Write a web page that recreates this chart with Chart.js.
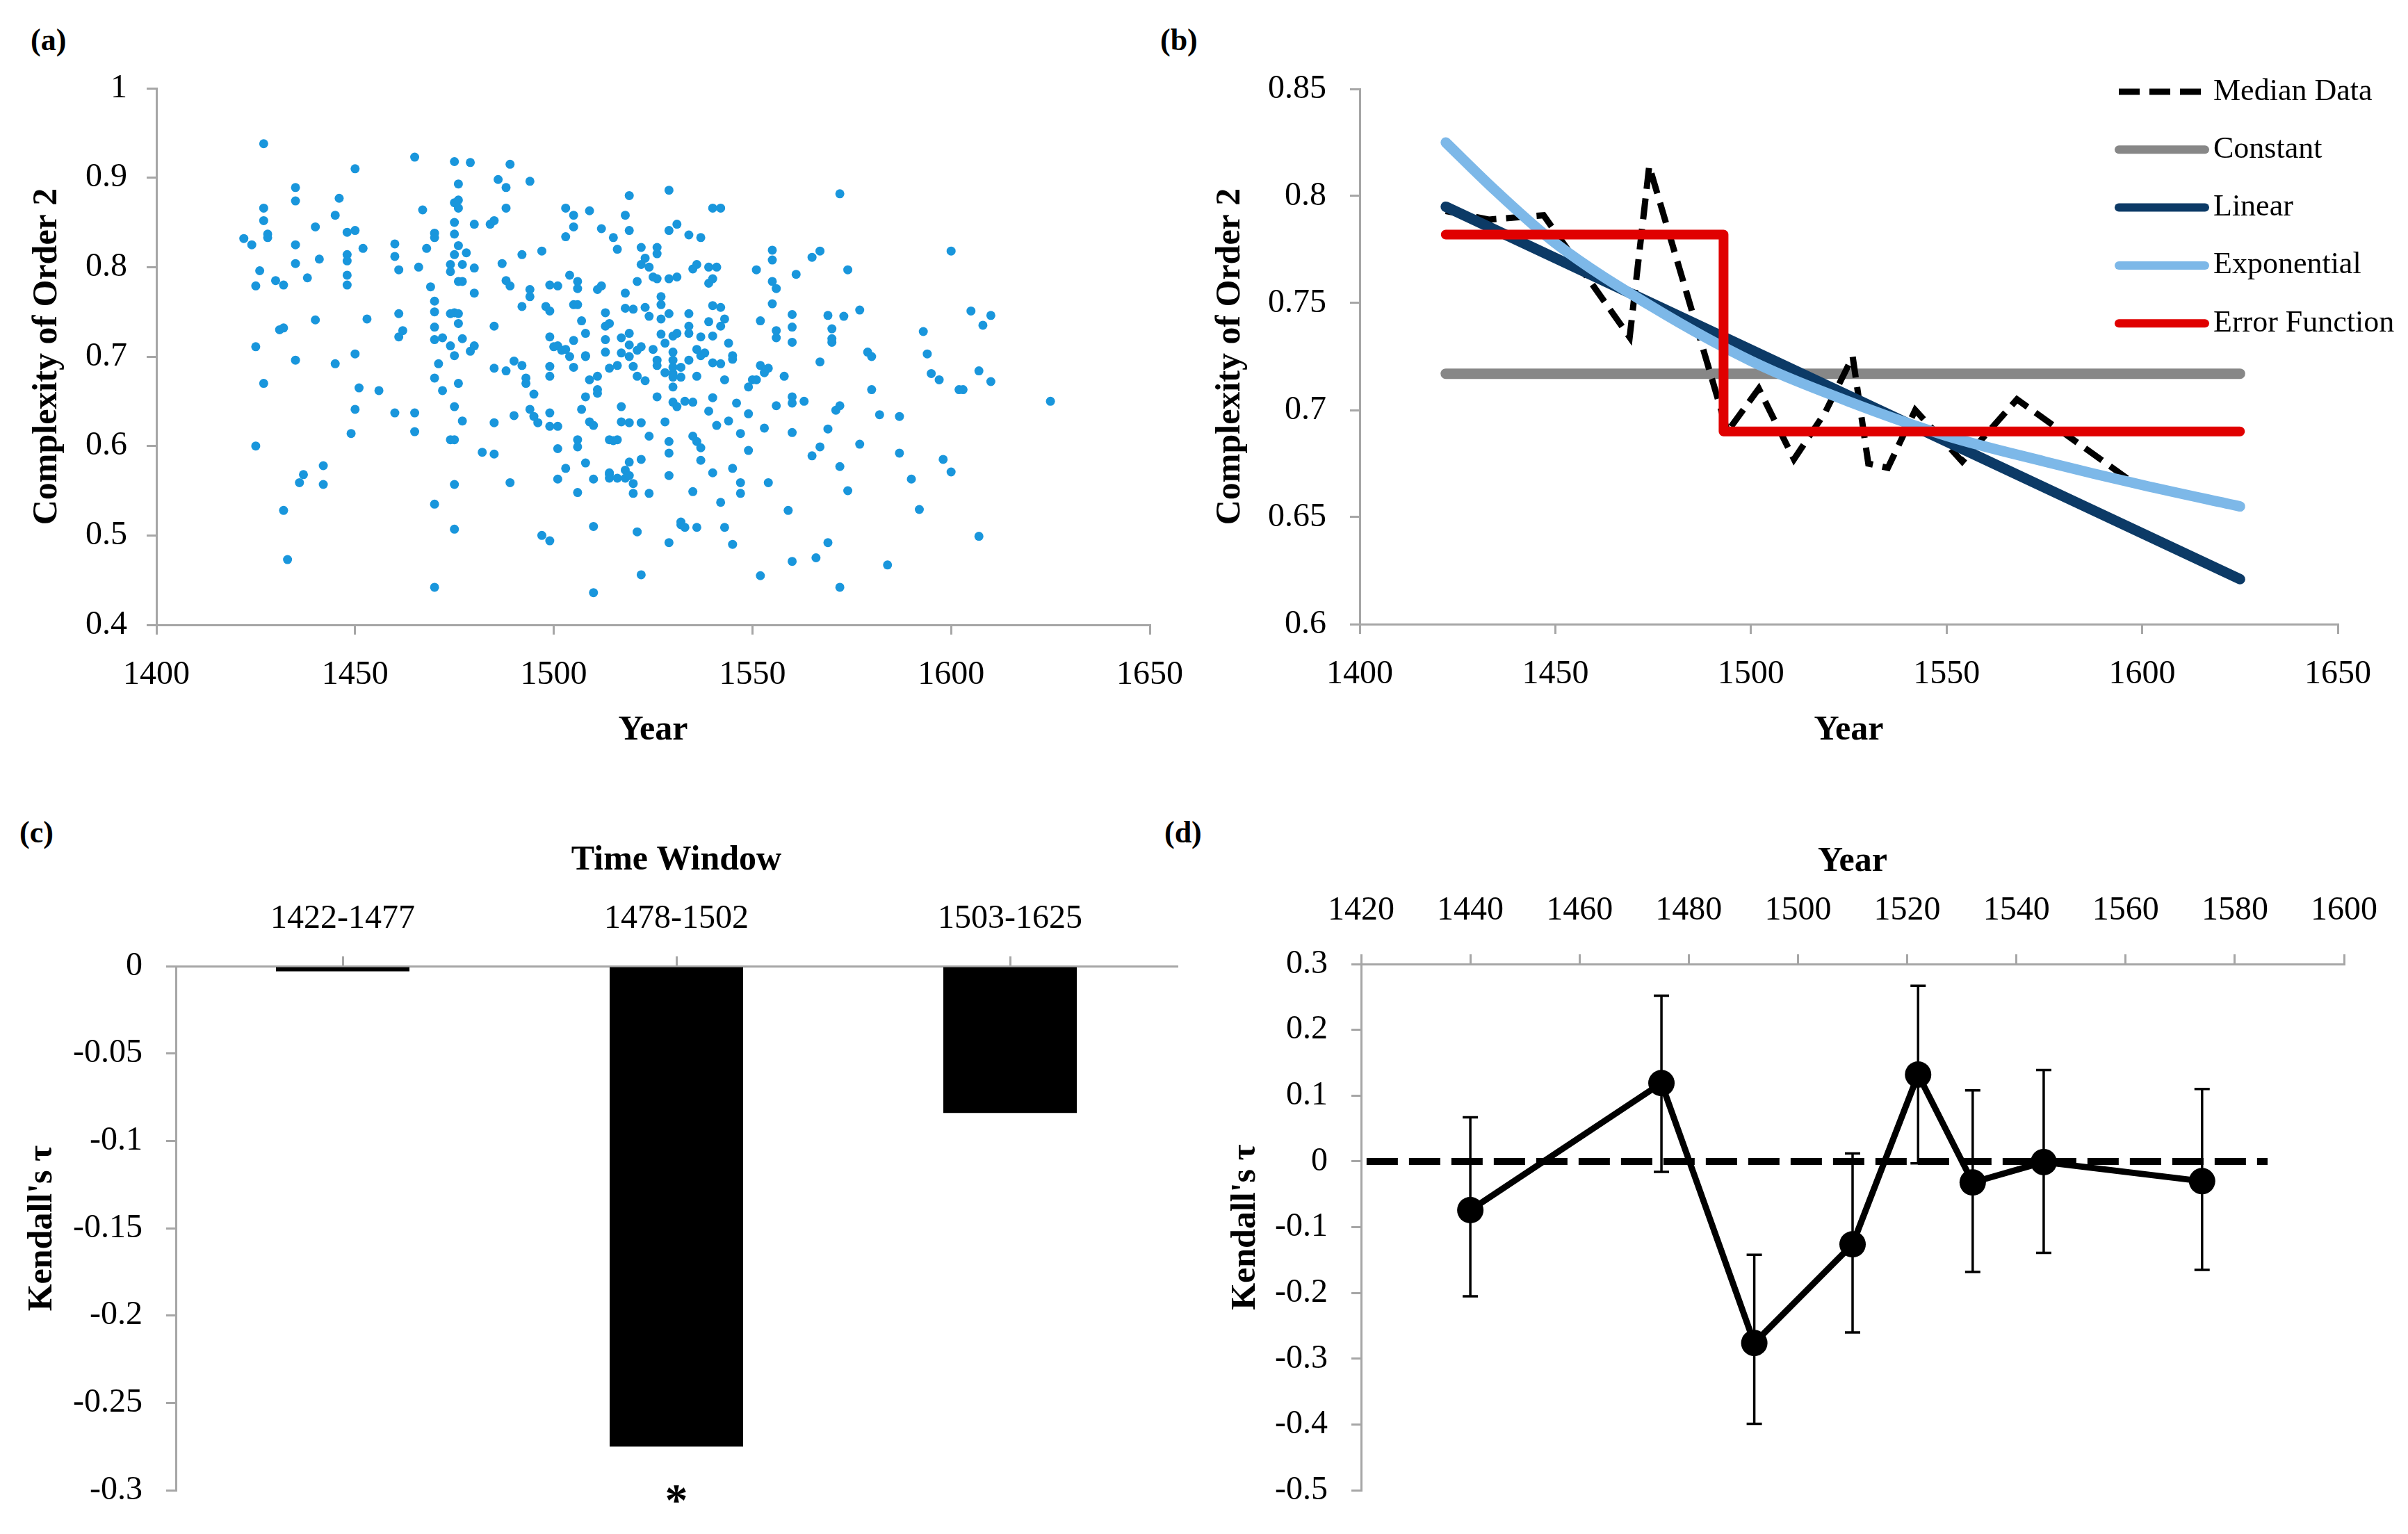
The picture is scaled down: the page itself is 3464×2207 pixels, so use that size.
<!DOCTYPE html>
<html>
<head>
<meta charset="utf-8">
<script src="https://cdn.jsdelivr.net/npm/chart.js@4.4.1/dist/chart.umd.min.js"></script>
<style>
  html, body { margin: 0; padding: 0; background: #fff; }
  body { width: 3464px; height: 2207px; position: relative; overflow: hidden; font-family: 'Liberation Serif', serif; }
  canvas { position: absolute; }
  .tag { position: absolute; font-weight: bold; font-size: 44px; line-height: 1; color: #000; }
</style>
</head>
<body>
<div class="tag" style="left:44px;top:36px">(a)</div>
<div class="tag" style="left:1669px;top:36px">(b)</div>
<div class="tag" style="left:28px;top:1176px">(c)</div>
<div class="tag" style="left:1675px;top:1176px">(d)</div>

<canvas id="chartA" width="1732" height="1110" style="left:0px;top:0px"></canvas>
<canvas id="chartB" width="1732" height="1110" style="left:1732px;top:0px"></canvas>
<canvas id="chartC" width="1732" height="1097" style="left:0px;top:1110px"></canvas>
<canvas id="chartD" width="1732" height="1097" style="left:1732px;top:1110px"></canvas>

<script>
// ---- (a) every piece: year and complexity of order 2
const yearsA = [
  1422,1424,1426,1425,1425,1427,1425,1427,1427,1427, 1428,1428,1430,1432,1431,1432,1432,1433,1435,1435,
  1435,1435,1435,1436,1437,1438,1440,1440,1441,1442, 1442,1445,1445,1446,1448,1448,1448,1448,1448,1450,
  1450,1449,1450,1450,1451,1452,1453,1456,1460,1460, 1461,1461,1461,1462,1460,1465,1466,1465,1465,1467,
  1468,1469,1470,1470,1470,1470,1470,1470,1470,1471, 1472,1472,1470,1470,1474,1474,1474,1474,1474,1475,
  1475,1475,1476,1476,1475,1475,1476,1475,1476,1477, 1475,1476,1476,1475,1475,1476,1475,1475,1476,1477,
  1477,1477,1478,1479,1480,1480,1480,1480,1479,1482, 1485,1485,1485,1485,1484,1485,1486,1487,1488,1488,
  1488,1488,1489,1489,1490,1489,1490,1492,1492,1492, 1493,1493,1494,1494,1494,1494,1495,1495,1496,1497,
  1497,1498,1499,1499,1499,1499,1499,1499,1499,1499, 1500,1501,1501,1501,1501,1501,1502,1503,1503,1503,
  1503,1504,1504,1505,1505,1505,1505,1506,1506,1505, 1506,1506,1506,1506,1507,1508,1507,1508,1508,1508,
  1508,1509,1509,1509,1510,1510,1510,1510,1511,1511, 1511,1511,1512,1512,1513,1513,1513,1513,1514,1514,
  1514,1514,1514,1514,1515,1515,1516,1516,1516,1516, 1517,1517,1517,1517,1518,1518,1518,1518,1518,1519,
  1519,1519,1519,1519,1519,1519,1520,1519,1520,1520, 1520,1521,1521,1521,1521,1522,1522,1522,1522,1522,
  1522,1523,1523,1523,1524,1524,1524,1524,1525,1525, 1526,1526,1526,1526,1526,1526,1527,1527,1527,1527,
  1528,1528,1528,1529,1529,1529,1529,1529,1529,1529, 1529,1530,1530,1530,1530,1530,1530,1530,1530,1531,
  1531,1531,1531,1532,1532,1532,1532,1533,1533,1534, 1534,1534,1534,1534,1535,1535,1535,1535,1536,1536,
  1536,1536,1536,1537,1537,1537,1537,1537,1538,1539, 1539,1539,1539,1540,1540,1540,1540,1540,1540,1540,
  1541,1541,1542,1542,1542,1542,1542,1543,1543,1543, 1544,1544,1545,1545,1545,1545,1546,1547,1547,1547,
  1549,1549,1549,1550,1551,1551,1552,1552,1552,1553, 1553,1554,1554,1555,1555,1555,1555,1556,1556,1556,
  1556,1558,1559,1560,1560,1560,1560,1560,1560,1560, 1561,1563,1565,1565,1566,1567,1567,1567,1569,1569,
  1570,1570,1570,1569,1571,1572,1572,1572,1573,1572, 1574,1574,1577,1577,1579,1580,1580,1582,1584,1587,
  1587,1590,1592,1593,1594,1595,1597,1598,1600,1600, 1602,1603,1605,1607,1607,1608,1610,1610,1625
];
const complexityA = [
  .832,.825,.796,.779,.711,.670,.600,.938,.866,.852, .837,.833,.785,.780,.730,.732,.528,.473,.889,.874,
  .825,.804,.696,.559,.568,.788,.845,.741,.809,.578, .557,.692,.858,.877,.814,.807,.791,.780,.839,.841,
  .910,.614,.641,.703,.665,.821,.742,.662,.826,.812, .797,.748,.722,.729,.637,.923,.800,.637,.616,.864,
  .821,.778,.838,.833,.762,.750,.733,.719,.676,.692, .662,.721,.535,.442,.803,.795,.748,.712,.607,.607,
  .918,.872,.875,.866,.850,.837,.824,.814,.784,.784, .749,.748,.737,.701,.644,.670,.557,.507,.893,.803,
  .720,.628,.816,.706,.712,.799,.771,.848,.917,.593, .591,.626,.687,.734,.848,.852,.898,.804,.889,.866,
  .684,.785,.779,.915,.634,.559,.695,.690,.814,.756, .676,.670,.775,.767,.896,.641,.633,.658,.626,.818,
  .500,.756,.751,.780,.722,.689,.678,.637,.622,.494, .711,.779,.712,.622,.597,.563,.707,.866,.834,.575,
  .708,.791,.700,.718,.688,.858,.845,.784,.776,.758, .758,.607,.548,.599,.641,.726,.740,.700,.701,.655,
  .581,.863,.674,.627,.623,.563,.436,.510,.678,.663, .659,.775,.843,.779,.734,.705,.749,.719,.607,.568,
  .687,.737,.570,.564,.606,.833,.820,.690,.607,.564, .721,.704,.644,.627,.858,.771,.564,.754,.573,.880,
  .726,.713,.582,.567,.841,.700,.689,.626,.547,.558, .753,.707,.784,.678,.504,.456,.711,.585,.822,.803,
  .626,.810,.673,.755,.745,.611,.547,.800,.789,.708, .696,.655,.815,.822,.690,.787,.742,.767,.725,.758,
  .715,.682,.627,.567,.787,.841,.886,.492,.605,.592, .748,.723,.705,.681,.677,.666,.649,.696,.688,.789,
  .726,.644,.848,.512,.515,.688,.677,.509,.650,.748, .734,.726,.696,.836,.798,.549,.611,.649,.803,.678,
  .509,.708,.605,.701,.722,.833,.584,.598,.704,.782, .800,.639,.739,.757,.570,.866,.723,.693,.654,.787,
  .623,.800,.866,.537,.692,.755,.734,.742,.674,.509, .715,.628,.701,.575,.490,.697,.648,.547,.559,.614,
  .666,.595,.636,.674,.797,.674,.690,.740,.455,.620, .682,.559,.687,.819,.808,.784,.759,.721,.645,.776,
  .729,.678,.528,.655,.648,.747,.733,.716,.615,.471, .792,.650,.589,.811,.475,.818,.694,.599,.746,.619,
  .731,.716,.720,.492,.640,.882,.577,.645,.745,.442, .550,.797,.752,.602,.705,.700,.663,.635,.467,.592,
  .633,.563,.529,.728,.703,.681,.674,.585,.818,.571, .663,.663,.751,.499,.684,.735,.672,.746,.650
];

// ---- (b) median data and fitted models
const medianYears  = [1422, 1433, 1447, 1469, 1474, 1494, 1502, 1511, 1519, 1526, 1530, 1535, 1542, 1554, 1568, 1597];
const medianValues = [0.793, 0.789, 0.791, 0.734, 0.814, 0.690, 0.710, 0.677, 0.699, 0.725, 0.675, 0.673, 0.700, 0.676, 0.705, 0.667];
const constYears = [1422, 1625];
const constValues = [0.717, 0.717];
const linearYears = [1422, 1625];
const linearValues = [0.795, 0.621];
const expYears  = [1422, 1435, 1450, 1475, 1500, 1525, 1550, 1575, 1600, 1625];
const expValues = [0.825, 0.802, 0.778, 0.748, 0.723, 0.704, 0.688, 0.676, 0.665, 0.655];
const erfYears  = [1422, 1493, 1493, 1625];
const erfValues = [0.782, 0.782, 0.690, 0.690];
const modelNames = ['Median Data', 'Constant', 'Linear', 'Exponential', 'Error Function'];

// ---- (c) Kendall's tau per time window
const windowLabels = ['1422-1477', '1478-1502', '1503-1625'];
const tauWindow = [-0.003, -0.275, -0.084];
const sigMarks = ['', '*', ''];

// ---- (d) Kendall's tau over years, with error bars
const yearsD = [1440, 1475, 1492, 1510, 1522, 1532, 1545, 1574];
const tauD   = [-0.074, 0.119, -0.276, -0.126, 0.132, -0.032, -0.001, -0.030];
const tauHiD = [0.067, 0.252, -0.142, 0.012, 0.267, 0.108, 0.139, 0.110];
const tauLoD = [-0.205, -0.016, -0.399, -0.260, -0.003, -0.168, -0.139, -0.165];
const zeroLineYears = [1421, 1586];
const zeroLineValues = [0, 0];

// ---- shared look
const SERIF = "'Liberation Serif', serif";
const AXIS_GRAY = '#a6a6a6';
const TICK_FONT = { family: SERIF, size: 48 };
const TITLE_FONT = { family: SERIF, size: 50, weight: 'bold' };

Chart.defaults.font.family = SERIF;
Chart.defaults.color = '#000';
Chart.defaults.animation = false;

function fmt(v) { return String(+v.toFixed(2)); }
function pts(xs, ys) { return xs.map((x, i) => ({ x: x, y: ys[i] })); }

function axis(extra) {
  return Object.assign({
    grid: { display: true, drawOnChartArea: false, tickLength: 14, color: AXIS_GRAY, lineWidth: 3 },
    border: { display: true, color: AXIS_GRAY, width: 3 }
  }, extra);
}

const baseOpts = {
  responsive: false,
  devicePixelRatio: 1,
  plugins: { legend: { display: false }, tooltip: { enabled: false } }
};

// (a) scatter
new Chart(document.getElementById('chartA'), {
  type: 'scatter',
  data: {
    datasets: [{
      data: pts(yearsA, complexityA),
      pointRadius: 6.5,
      pointBackgroundColor: '#1996dc',
      pointBorderWidth: 0
    }]
  },
  options: Object.assign({}, baseOpts, {
    layout: { padding: { left: 0, top: 127, right: 74, bottom: 0 } },
    scales: {
      x: axis({
        type: 'linear', min: 1400, max: 1650,
        ticks: { stepSize: 50, font: TICK_FONT, padding: 30, callback: v => String(v) },
        title: { display: true, text: 'Year', font: TITLE_FONT, padding: { top: 0, bottom: 29 } },
        afterFit: s => { s.height = 211; }
      }),
      y: axis({
        min: 0.4, max: 1,
        ticks: { stepSize: 0.1, font: TICK_FONT, padding: 28, callback: fmt },
        title: { display: true, text: 'Complexity of Order 2', font: TITLE_FONT, padding: { top: 38, bottom: 0 } },
        afterFit: s => { s.width = 225; }
      })
    }
  })
});

// (b) legend drawn at the upper right, partly over the plot
const legendB = {
  id: 'legendB',
  afterDraw(chart) {
    const ctx = chart.ctx;
    ctx.save();
    chart.data.datasets.forEach((ds, i) => {
      const y = 132 + i * 83.3;
      ctx.beginPath();
      ctx.strokeStyle = ds.borderColor;
      ctx.lineWidth = Math.min(ds.borderWidth, 12);
      ctx.lineCap = ds.borderDash ? 'butt' : 'round';
      ctx.setLineDash(ds.borderDash || []);
      ctx.moveTo(1316, y);
      ctx.lineTo(1440, y);
      ctx.stroke();
      ctx.setLineDash([]);
      ctx.fillStyle = '#000';
      ctx.font = "44px " + SERIF;
      ctx.textBaseline = 'middle';
      ctx.textAlign = 'left';
      ctx.fillText(ds.label, 1452, y);
    });
    ctx.restore();
  }
};

new Chart(document.getElementById('chartB'), {
  type: 'line',
  data: {
    datasets: [
      { label: modelNames[0], data: pts(medianYears, medianValues), borderColor: '#000', borderWidth: 9,
        borderDash: [30, 14], pointRadius: 0, order: 3 },
      { label: modelNames[1], data: pts(constYears, constValues), borderColor: '#878787', borderWidth: 15,
        borderCapStyle: 'round', pointRadius: 0, order: 4 },
      { label: modelNames[2], data: pts(linearYears, linearValues), borderColor: '#0c3a66', borderWidth: 15,
        borderCapStyle: 'round', pointRadius: 0, order: 2 },
      { label: modelNames[3], data: pts(expYears, expValues), borderColor: '#7db8e8', borderWidth: 15,
        borderCapStyle: 'round', cubicInterpolationMode: 'monotone', pointRadius: 0, order: 1 },
      { label: modelNames[4], data: pts(erfYears, erfValues), borderColor: '#e00000', borderWidth: 14,
        borderCapStyle: 'round', borderJoinStyle: 'round', pointRadius: 0, order: 0 }
    ]
  },
  options: Object.assign({}, baseOpts, {
    layout: { padding: { left: 0, top: 128, right: 101, bottom: 0 } },
    scales: {
      x: axis({
        type: 'linear', min: 1400, max: 1650,
        ticks: { stepSize: 50, font: TICK_FONT, padding: 30, callback: v => String(v) },
        title: { display: true, text: 'Year', font: TITLE_FONT, padding: { top: 0, bottom: 29 } },
        afterFit: s => { s.height = 212; }
      }),
      y: axis({
        min: 0.6, max: 0.85,
        ticks: { stepSize: 0.05, font: TICK_FONT, padding: 34, callback: fmt },
        title: { display: true, text: 'Complexity of Order 2', font: TITLE_FONT, padding: { top: 8, bottom: 0 } },
        afterFit: s => { s.width = 224; }
      })
    }
  }),
  plugins: [legendB]
});

// (c) bars with significance mark
const sigPlugin = {
  id: 'sigMarks',
  afterDatasetsDraw(chart) {
    const ctx = chart.ctx;
    const xs = chart.scales.x, ys = chart.scales.y;
    ctx.save();
    ctx.fillStyle = '#000';
    ctx.font = "bold 66px " + SERIF;
    ctx.textAlign = 'center';
    ctx.textBaseline = 'alphabetic';
    sigMarks.forEach((m, i) => {
      if (m) ctx.fillText(m, xs.getPixelForValue(i), ys.getPixelForValue(ys.min) + 36);
    });
    ctx.restore();
  }
};

new Chart(document.getElementById('chartC'), {
  type: 'bar',
  data: {
    labels: windowLabels,
    datasets: [{ data: tauWindow, backgroundColor: '#000', barPercentage: 0.4, categoryPercentage: 1 }]
  },
  options: Object.assign({}, baseOpts, {
    layout: { padding: { left: 0, top: 0, right: 39, bottom: 44 } },
    scales: {
      x: axis({
        position: 'top', offset: true,
        grid: { display: true, offset: false, drawOnChartArea: false, tickLength: 14, color: AXIS_GRAY, lineWidth: 3 },
        ticks: { font: TICK_FONT, padding: 25 },
        title: { display: true, text: 'Time Window', font: TITLE_FONT, padding: { top: 98, bottom: 0 } },
        afterFit: s => { s.height = 280; }
      }),
      y: axis({
        min: -0.3, max: 0,
        ticks: { stepSize: 0.05, font: TICK_FONT, padding: 34, callback: fmt },
        title: { display: true, text: "Kendall's τ", font: TITLE_FONT, padding: { top: 31, bottom: 0 } },
        afterFit: s => { s.width = 253; }
      })
    }
  }),
  plugins: [sigPlugin]
});

// (d) tau over years with error bars
const errorBars = {
  id: 'errorBars',
  beforeDatasetsDraw(chart) {
    const ctx = chart.ctx;
    const xs = chart.scales.x, ys = chart.scales.y;
    ctx.save();
    ctx.strokeStyle = '#000';
    ctx.lineWidth = 3.5;
    yearsD.forEach((yr, i) => {
      const x = xs.getPixelForValue(yr);
      const top = ys.getPixelForValue(tauHiD[i]);
      const bot = ys.getPixelForValue(tauLoD[i]);
      ctx.beginPath();
      ctx.moveTo(x, top); ctx.lineTo(x, bot);
      ctx.moveTo(x - 11, top); ctx.lineTo(x + 11, top);
      ctx.moveTo(x - 11, bot); ctx.lineTo(x + 11, bot);
      ctx.stroke();
    });
    ctx.restore();
  }
};

new Chart(document.getElementById('chartD'), {
  type: 'line',
  data: {
    datasets: [
      { data: pts(yearsD, tauD), borderColor: '#000', borderWidth: 9, pointRadius: 19,
        pointBackgroundColor: '#000', pointBorderWidth: 0, order: 0 },
      { data: pts(zeroLineYears, zeroLineValues), borderColor: '#000', borderWidth: 10,
        borderDash: [45, 16], pointRadius: 0, order: 1 }
    ]
  },
  options: Object.assign({}, baseOpts, {
    layout: { padding: { left: 0, top: 0, right: 92, bottom: 49 } },
    scales: {
      x: axis({
        type: 'linear', position: 'top', min: 1420, max: 1600,
        ticks: { stepSize: 20, font: TICK_FONT, padding: 34, callback: v => String(v) },
        title: { display: true, text: 'Year', font: TITLE_FONT, padding: { top: 100, bottom: 0 } },
        afterFit: s => { s.height = 277; }
      }),
      y: axis({
        min: -0.5, max: 0.3,
        ticks: { stepSize: 0.1, font: TICK_FONT, padding: 34, callback: fmt },
        title: { display: true, text: "Kendall's τ", font: TITLE_FONT, padding: { top: 30, bottom: 0 } },
        afterFit: s => { s.width = 226; }
      })
    }
  }),
  plugins: [errorBars]
});
</script>
</body>
</html>
